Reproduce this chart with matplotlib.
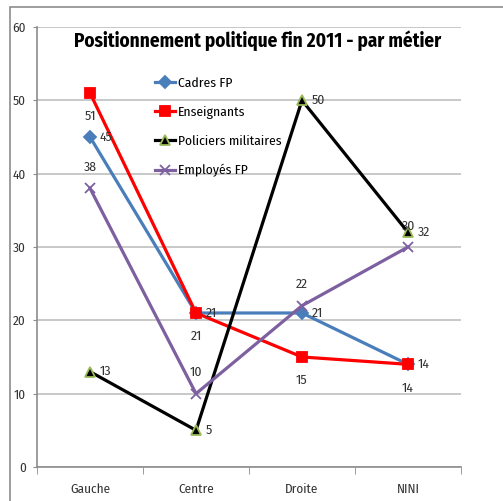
import matplotlib.pyplot as plt
from matplotlib.patches import Rectangle

categories = ['Gauche', 'Centre', 'Droite', 'NINI']
series_names = ['Cadres FP', 'Enseignants', 'Policiers militaires', 'Employés FP']
cadres = [45, 21, 21, 14]
enseignants = [51, 21, 15, 14]
policiers = [13, 5, 50, 32]
employes = [38, 10, 22, 30]

# where each data label sits relative to its point
label_pos = {
    'Cadres FP': ['right', 'below', 'right', 'below'],
    'Enseignants': ['below', 'right', 'below', 'right'],
    'Policiers militaires': ['right', 'right', 'right', 'right'],
    'Employés FP': ['above', 'above', 'above', 'above'],
}

plt.rcParams['font.family'] = ['Fira Sans Condensed', 'DejaVu Sans']

fig = plt.figure(figsize=(5.03, 5.01), dpi=100)
ax = fig.add_axes([0.0736, 0.0679, 0.8429, 0.8782])

# outer chart frame (only top and left visible)
fig.patches.append(Rectangle((10 / 503, -0.1), 1.2, 1.1 - 8 / 501 + 0.002,
                             transform=fig.transFigure, fill=False,
                             edgecolor='#8c8c8c', linewidth=1.2, zorder=0))

x = list(range(len(categories)))
styles = [
    (cadres, '#4A7EBB', 'D', '#4A7EBB', '#4A7EBB', 6),
    (enseignants, '#FF0000', 's', '#FF0000', '#FF0000', 7.5),
    (policiers, '#000000', '^', '#000000', '#9BBB59', 7),
    (employes, '#7D60A0', 'x', '#7D60A0', '#7D60A0', 7.5),
]
for name, (vals, col, mk, fc, ec, ms) in zip(series_names, styles):
    ax.plot(x, vals, '-', color=col, lw=2.3, marker=mk, markerfacecolor=fc,
            markeredgecolor=ec, markersize=ms, markeredgewidth=1.3, label=name)
    for xi, v, pos in zip(x, vals, label_pos[name]):
        if pos == 'right':
            off, ha, va = (7, 0), 'left', 'center'
        elif pos == 'above':
            off, ha, va = (0, 15), 'center', 'center'
        else:
            off, ha, va = (0, -17), 'center', 'center'
        ax.annotate(str(v), (xi, v), xytext=off, textcoords='offset points',
                    ha=ha, va=va, fontsize=9.8, color='#333333')

ax.set_xlim(-0.5, 3.5)
ax.set_ylim(0, 60)
ax.set_yticks(range(0, 61, 10))
ax.set_xticks(x)
ax.set_xticklabels(categories)
ax.set_xticks([-0.5, 0.5, 1.5, 2.5, 3.5], minor=True)
ax.tick_params(axis='x', which='major', length=0, pad=12, labelsize=9.5, colors='#333333')
ax.tick_params(axis='x', which='minor', length=5, color='#8c8c8c')
ax.tick_params(axis='y', length=3, color='#8c8c8c', labelsize=9.5, pad=5, labelcolor='#333333')
ax.grid(axis='y', color='#bfbfbf', linewidth=1.2)
ax.set_axisbelow(True)
for s in ['top', 'right']:
    ax.spines[s].set_visible(False)
for s in ['left', 'bottom']:
    ax.spines[s].set_color('#8c8c8c')
    ax.spines[s].set_linewidth(1.2)

ax.legend(loc='upper left', bbox_to_anchor=(0.278, 0.886), frameon=False,
          fontsize=9.8, handlelength=1.5, handletextpad=0.2, labelspacing=1.2,
          borderpad=0, borderaxespad=0)

fig.text(0.513, 1 - 47 / 501, 'Positionnement politique fin 2011 - par métier',
         ha='center', va='baseline', fontsize=13.8, fontweight='bold')

plt.savefig('out.png', dpi=100)
